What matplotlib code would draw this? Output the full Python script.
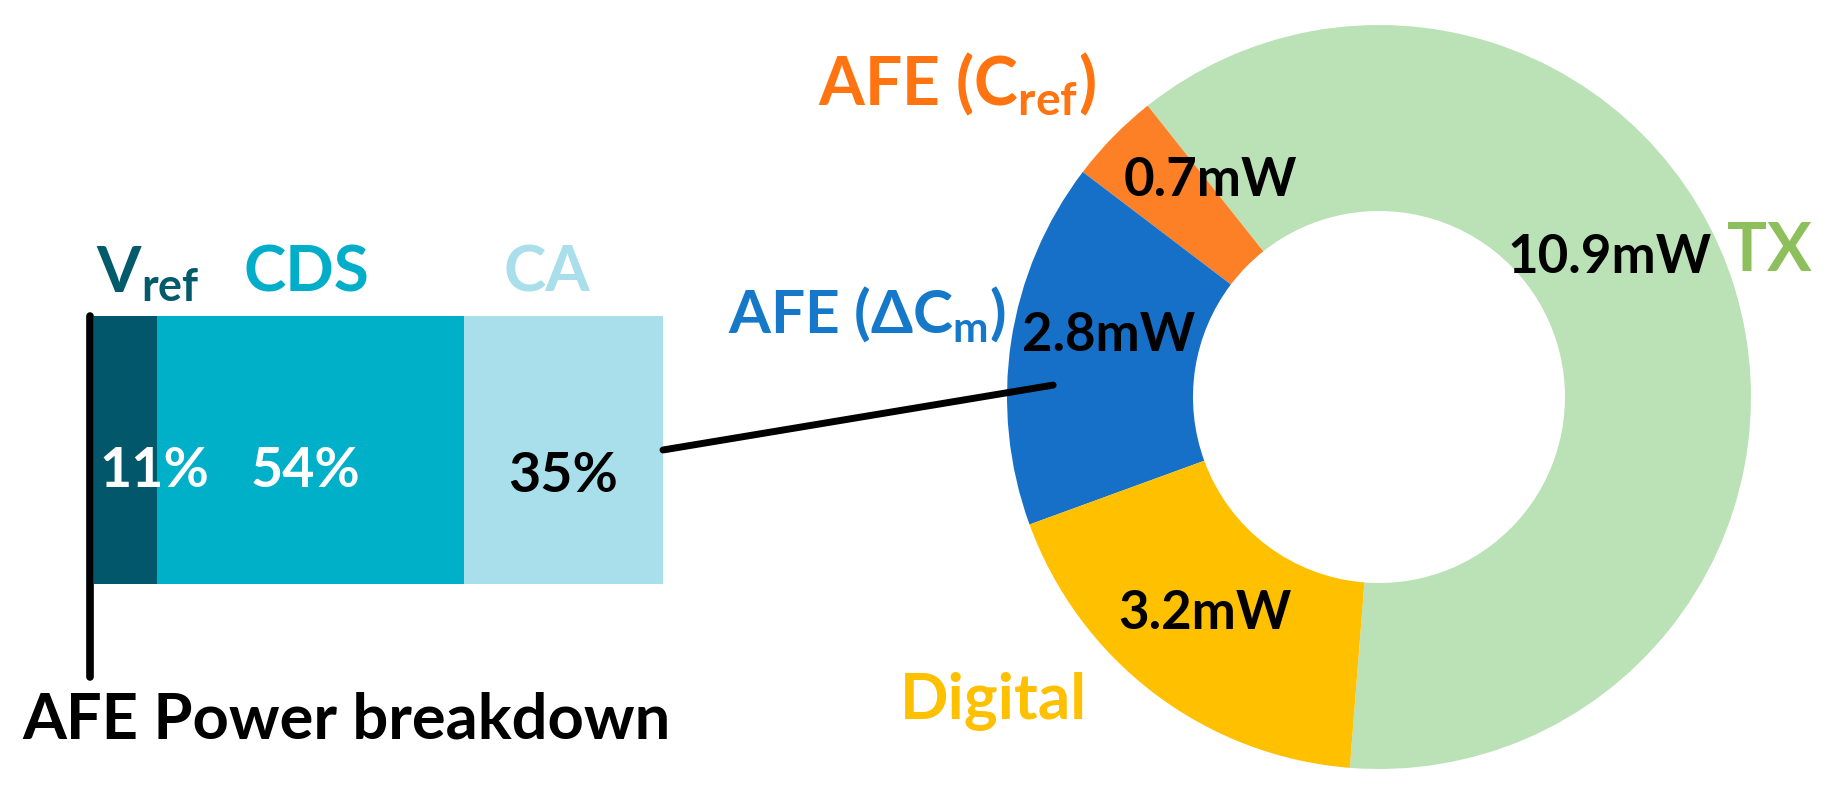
import matplotlib
matplotlib.use("Agg")
import matplotlib.pyplot as plt
from matplotlib.patches import ConnectionPatch

# AFE power split, stacked bar (percent)
afe_parts = [r"V$_\mathrm{ref}$", "CDS", "CA"]
afe_share = [11, 54, 35]
afe_pct_labels = ["11%", "54%", "35%"]

# total power, donut (mW), counter-clockwise starting at the bottom
blocks = ["TX", r"AFE (C$_\mathrm{ref}$)", r"AFE ($\Delta$C$_\mathrm{m}$)", "Digital"]
power_mw = [10.9, 0.7, 2.8, 3.2]
power_labels = ["10.9mW", "0.7mW", "2.8mW", "3.2mW"]

afe_colors = ["#02586A", "#00AFC8", "#A8DFEA"]
afe_name_colors = ["#035A6A", "#00AECA", "#A8DFEA"]
afe_pct_colors = ["white", "white", "black"]
block_colors = ["#BBE1B6", "#FD7F26", "#1770C8", "#FFC000"]
block_name_colors = ["#8DC05C", "#FF7410", "#1578C9", "#FFC000"]

plt.rcParams['font.family'] = ['Lato', 'DejaVu Sans']
plt.rcParams['font.weight'] = 'bold'
plt.rcParams['mathtext.fontset'] = 'custom'
plt.rcParams['mathtext.rm'] = 'Lato:bold'
plt.rcParams['mathtext.it'] = 'Lato:bold'
plt.rcParams['mathtext.bf'] = 'Lato:bold'
plt.rcParams['mathtext.sf'] = 'Lato:bold'
plt.rcParams['mathtext.fallback'] = 'stixsans'

W, H = 1834, 806
fig = plt.figure(figsize=(W / 100, H / 100), dpi=100)

# ---- stacked bar on the left ----
axb = fig.add_axes([94 / W, 1 - 584 / H, 569 / W, 268 / H])
left = 0
centers = []
for share, col in zip(afe_share, afe_colors):
    axb.barh(0, share, left=left, height=1, color=col, edgecolor='none')
    centers.append(left + share / 2)
    left += share
axb.set_xlim(0, 100)
axb.set_ylim(-0.5, 0.5)
axb.axis('off')

# names above the bar
axb.text(0.35, 0.59, afe_parts[0], color=afe_name_colors[0], fontsize=46,
         ha='left', va='baseline')
axb.text(centers[1] - 0.6, 0.59, afe_parts[1], color=afe_name_colors[1], fontsize=46,
         ha='center', va='baseline')
axb.text(centers[2] - 3, 0.59, afe_parts[2], color=afe_name_colors[2], fontsize=46,
         ha='center', va='baseline')

# percentages inside
axb.text(0.9, -0.138, afe_pct_labels[0], color=afe_pct_colors[0], fontsize=40,
         ha='left', va='baseline')
axb.text(centers[1] - 0.9, -0.138, afe_pct_labels[1], color=afe_pct_colors[1], fontsize=40,
         ha='center', va='baseline')
axb.text(centers[2], -0.157, afe_pct_labels[2], color=afe_pct_colors[2], fontsize=40,
         ha='center', va='baseline')

# black marker line on the left + caption
axb.plot([-0.7, -0.7], [0.5, -0.847], color='black', lw=5.5,
         solid_capstyle='round', clip_on=False)
axb.text(44.3, -1.075, "AFE Power breakdown", color='black', fontsize=45.5,
         ha='center', va='baseline')

# ---- donut on the right ----
axp = fig.add_axes([1007 / W, 1 - 769 / H, 744 / W, 744 / H])
axp.pie(power_mw, colors=block_colors, startangle=-94.5, counterclock=True,
        radius=1, wedgeprops=dict(width=0.5, edgecolor='none'))
axp.set_xlim(-1, 1)
axp.set_ylim(-1, 1)
axp.set_aspect('equal')
axp.axis('off')

value_pos = [(0.621, 0.376), (-0.454, 0.581), (-0.728, 0.164), (-0.468, -0.581)]
for txt, (x, y) in zip(power_labels, value_pos):
    axp.text(x, y, txt, color='black', fontsize=38, ha='center', va='center')

name_pos = [(0.935, 0.339), (-1.508, 0.785), (-1.75, 0.172), (-1.288, -0.863)]
name_size = [48, 47.5, 43.5, 46]
for txt, (x, y), col, fs in zip(blocks, name_pos, block_name_colors, name_size):
    axp.text(x, y, txt, color=col, fontsize=fs, ha='left', va='baseline',
             clip_on=False)

# connector from the bar to the AFE wedge
con = ConnectionPatch(xyA=(100, 0.0), coordsA=axb.transData,
                      xyB=(-0.876, 0.032), coordsB=axp.transData,
                      color='black', lw=5, capstyle='round')
fig.add_artist(con)

fig.savefig("out.png", dpi=100)
